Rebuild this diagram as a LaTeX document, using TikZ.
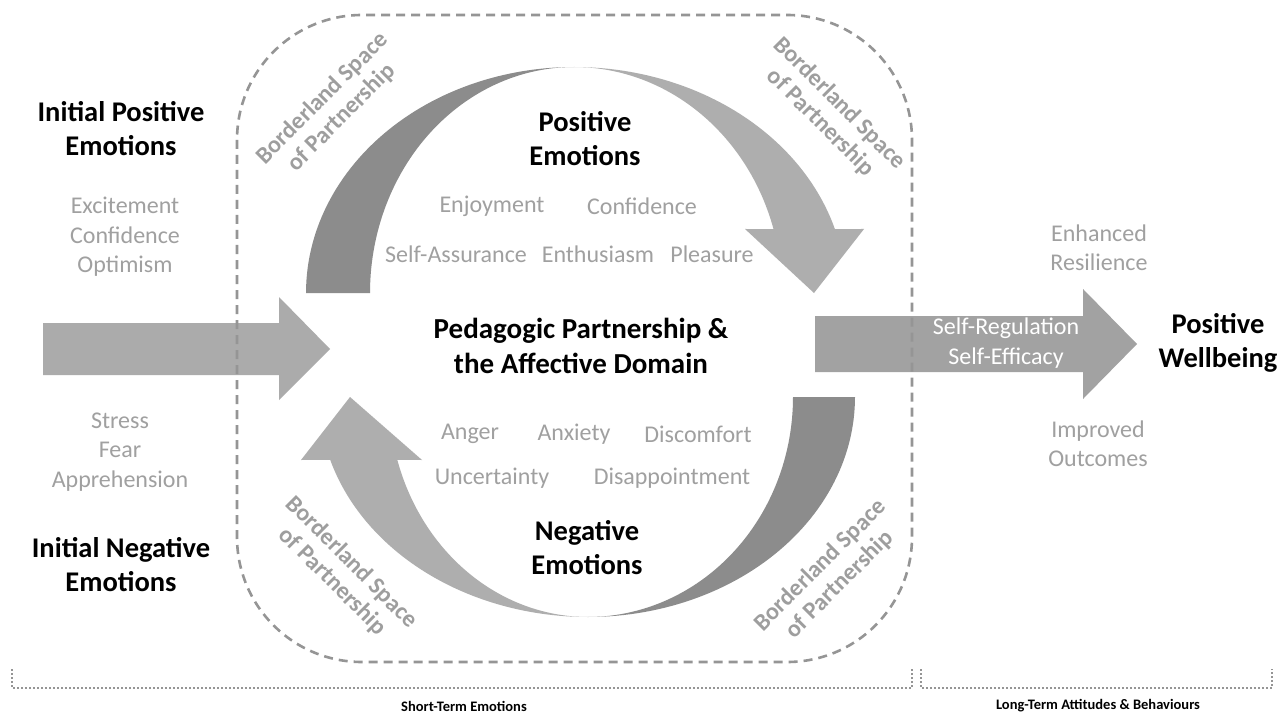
\documentclass[tikz,border=0pt]{standalone}
\usepackage{fontspec}
\setmainfont{Carlito}
\definecolor{darkband}{HTML}{8C8C8C}
\definecolor{lightband}{HTML}{AEAEAE}
\definecolor{leftarrow}{HTML}{ABABAB}
\definecolor{rightarrow}{HTML}{A2A2A2}
\definecolor{txtgray}{HTML}{A0A0A0}
\definecolor{bordgray}{HTML}{9E9E9E}
\definecolor{linegray}{HTML}{959595}
\tikzset{
  headtxt/.style={font=\fontsize{28.5}{34}\selectfont\bfseries, align=center, text=black, inner sep=0pt},
  itemtxt/.style={font=\fontsize{24}{29.5}\selectfont, align=center, text=txtgray, inner sep=0pt},
  bordtxt/.style={font=\fontsize{24}{27}\selectfont\bfseries, align=center, text=bordgray, inner sep=0pt},
  foottxt/.style={font=\fontsize{14.5}{16}\selectfont\bfseries, text=black, inner sep=0pt},
  boxdash/.style={draw=linegray, line width=2.6pt, dash pattern=on 9pt off 6pt},
  dotline/.style={draw=linegray, line width=2pt, dash pattern=on 2pt off 2pt},
}
\begin{document}
\begin{tikzpicture}[x=1pt,y=-1pt]
\useasboundingbox (0,0) rectangle (1281,719);
\fill[white] (0,0) rectangle (1281,719);

% straight arrows
\fill[leftarrow] (43,323) -- (279,323) -- (279,297) -- (330,349) -- (279,400) -- (279,375) -- (43,375) -- cycle;
\fill[rightarrow] (815,316) -- (1083,316) -- (1083,289) -- (1137,344) -- (1083,399) -- (1083,372) -- (815,372) -- cycle;

% top curved arrow
\fill[darkband] plot[domain=180:90, samples=60] ({574+268*cos(\x)},{293-226*sin(\x)})
  -- plot[domain=90:180, samples=60] ({574+204*cos(\x)},{293-226*sin(\x)}) -- cycle;
\fill[lightband] plot[domain=90:16.45, samples=60] ({574+272*cos(\x)},{293-226*sin(\x)})
  -- (864,229) -- (814,293) -- (745,229)
  -- plot[domain=16.45:90, samples=60] ({574+208*cos(\x)},{293-226*sin(\x)}) -- cycle;

% bottom curved arrow
\fill[darkband] plot[domain=0:90, samples=60] ({588+267*cos(\x)},{397+220*sin(\x)})
  -- plot[domain=90:0, samples=60] ({588+205*cos(\x)},{397+220*sin(\x)}) -- cycle;
\fill[lightband] plot[domain=90:163.4, samples=60] ({588+269*cos(\x)},{397+220*sin(\x)})
  -- (301,460) -- (350,397) -- (422,460)
  -- plot[domain=163.4:90, samples=60] ({588+199*cos(\x)},{397+220*sin(\x)}) -- cycle;

% dashed borderland box
\draw[boxdash, rounded corners=125pt] (237,15) rectangle (912,662);

% bottom brackets
\draw[dotline] (12,669) -- (12,688) -- (912,688) -- (912,669);
\draw[dotline] (921,669) -- (921,688) -- (1272,688) -- (1272,669);

% left texts
\node[headtxt] (ipos) at (121,129) {Initial Positive\\Emotions};
\node[itemtxt] (posl) at (125,237) {Excitement\\Confidence\\Optimism};
\node[itemtxt] (negl) at (120,452) {Stress\\Fear\\Apprehension};
\node[headtxt] (ineg) at (121,565) {Initial Negative\\Emotions};

% centre texts
\node[headtxt] (pose) at (585,139) {Positive\\Emotions};
\node[itemtxt] (enj) at (492,206) {Enjoyment};
\node[itemtxt] (conf) at (642,206) {Confidence};
\node[itemtxt] (sass) at (456,254) {Self-Assurance};
\node[itemtxt] (enth) at (598,254) {Enthusiasm};
\node[itemtxt] (plea) at (712,254) {Pleasure};
\node[headtxt, font=\fontsize{29}{35}\selectfont\bfseries] (ped) at (581,346) {Pedagogic Partnership \&\\the Affective Domain};
\node[itemtxt] (ang) at (470,434) {Anger};
\node[itemtxt] (anx) at (574,434) {Anxiety};
\node[itemtxt] (disc) at (698,434) {Discomfort};
\node[itemtxt] (unc) at (492,478) {Uncertainty};
\node[itemtxt] (disa) at (672,478) {Disappointment};
\node[headtxt] (nege) at (587,548) {Negative\\Emotions};

% borderland labels
\node[bordtxt, rotate=45] (btl) at (332,108) {Borderland Space\\of Partnership};
\node[bordtxt, rotate=-45] (btr) at (830,113) {Borderland Space\\of Partnership};
\node[bordtxt, rotate=-45] (bbl) at (342,572) {Borderland Space\\of Partnership};
\node[bordtxt, rotate=45] (bbr) at (830,575) {Borderland Space\\of Partnership};

% right texts
\node[itemtxt] (enh) at (1099,248) {Enhanced\\Resilience};
\node[itemtxt, text=white] (selfr) at (1006,343) {Self-Regulation\\Self-Efficacy};
\node[headtxt] (wellb) at (1218,343) {Positive\\Wellbeing};
\node[itemtxt] (impr) at (1098,444) {Improved\\Outcomes};

% footers
\node[foottxt] (stl) at (464,706) {Short-Term Emotions};
\node[foottxt] (ltl) at (1098,706) {Long-Term Attitudes \& Behaviours};
\end{tikzpicture}
\end{document}
